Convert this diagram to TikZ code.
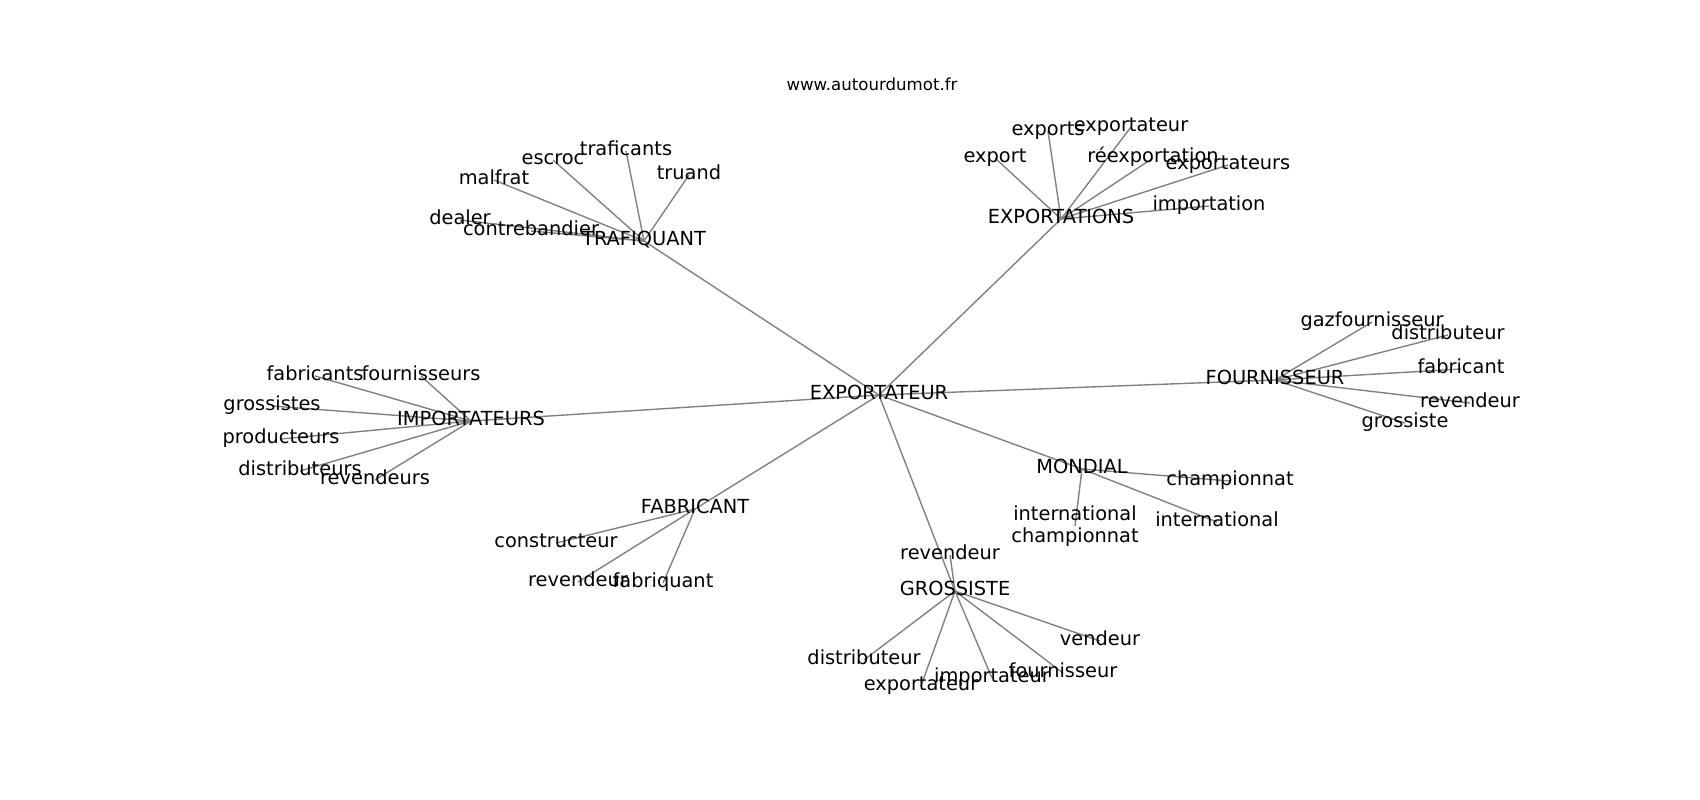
\documentclass[tikz,border=0pt]{standalone}
\usepackage{fontspec}
\setmainfont{DejaVu Sans}
\usetikzlibrary{backgrounds}

\begin{document}
\begin{tikzpicture}[x=0.01in, y=-0.01in,
  lbl/.style={inner sep=0pt, font=\fontsize{14}{15.6}\selectfont, text height=10.6pt, text depth=3.4pt},
  lbl2/.style={inner sep=0pt, font=\fontsize{14}{15.6}\selectfont, align=center},
  edge/.style={line width=1pt, black!50}]

  \useasboundingbox (0,-3) rectangle (1700,797);

  \node[inner sep=0pt, font=\fontsize{12}{14}\selectfont, text height=9.1pt, text depth=2.9pt] at (872,83) (ttl) {www.autourdumot.fr};

  \node[lbl] at (879,392) (c0) {EXPORTATEUR};

  % trafiquant
  \node[lbl] at (644,238) (t0) {TRAFIQUANT};
  \node[lbl] at (460,217) (t1) {dealer};
  \node[lbl] at (531,228) (t2) {contrebandier};
  \node[lbl] at (494,177) (t3) {malfrat};
  \node[lbl] at (553,157) (t4) {escroc};
  \node[lbl] at (626,148) (t5) {traficants};
  \node[lbl] at (689,172) (t6) {truand};

  % exportations
  \node[lbl] at (1061,216) (x0) {EXPORTATIONS};
  \node[lbl] at (995,155) (x1) {export};
  \node[lbl] at (1048,128) (x2) {exports};
  \node[lbl] at (1131,124) (x3) {exportateur};
  \node[lbl] at (1153,155) (x4) {réexportation};
  \node[lbl] at (1228,162) (x5) {exportateurs};
  \node[lbl] at (1209,203) (x6) {importation};

  % fournisseur
  \node[lbl] at (1275,377) (f0) {FOURNISSEUR};
  \node[lbl] at (1372,319) (f1) {gazfournisseur};
  \node[lbl] at (1448,332) (f2) {distributeur};
  \node[lbl] at (1461,366) (f3) {fabricant};
  \node[lbl] at (1470,400) (f4) {revendeur};
  \node[lbl] at (1405,420) (f5) {grossiste};

  % importateurs
  \node[lbl] at (471,418) (i0) {IMPORTATEURS};
  \node[lbl] at (315,373) (i1) {fabricants};
  \node[lbl] at (421,373) (i2) {fournisseurs};
  \node[lbl] at (272,403) (i3) {grossistes};
  \node[lbl] at (281,436) (i4) {producteurs};
  \node[lbl] at (300,468) (i5) {distributeurs};
  \node[lbl] at (375,477) (i6) {revendeurs};

  % fabricant
  \node[lbl] at (695,506) (b0) {FABRICANT};
  \node[lbl] at (556,540) (b1) {constructeur};
  \node[lbl] at (578,579) (b2) {revendeur};
  \node[lbl] at (663,580) (b3) {fabriquant};

  % grossiste
  \node[lbl] at (955,588) (g0) {GROSSISTE};
  \node[lbl] at (950,552) (g1) {revendeur};
  \node[lbl] at (864,657) (g2) {distributeur};
  \node[lbl] at (921,683) (g3) {exportateur};
  \node[lbl] at (992,675) (g4) {importateur};
  \node[lbl] at (1063,670) (g5) {fournisseur};
  \node[lbl] at (1100,638) (g6) {vendeur};

  % mondial
  \node[lbl] at (1082,466) (m0) {MONDIAL};
  \node[lbl] at (1230,478) (m1) {championnat};
  \node[lbl] at (1217,519) (m2) {international};
  \node[lbl2] at (1075,523) (m3) {international\\championnat};

  \begin{scope}[on background layer]
  \draw[edge] (c0.center) -- (t0.center);
  \draw[edge] (c0.center) -- (x0.center);
  \draw[edge] (c0.center) -- (f0.center);
  \draw[edge] (c0.center) -- (i0.center);
  \draw[edge] (c0.center) -- (b0.center);
  \draw[edge] (c0.center) -- (g0.center);
  \draw[edge] (c0.center) -- (m0.center);

  \draw[edge] (t0.center) -- (t1.center);
  \draw[edge] (t0.center) -- (t2.center);
  \draw[edge] (t0.center) -- (t3.center);
  \draw[edge] (t0.center) -- (t4.center);
  \draw[edge] (t0.center) -- (t5.center);
  \draw[edge] (t0.center) -- (t6.center);

  \draw[edge] (x0.center) -- (x1.center);
  \draw[edge] (x0.center) -- (x2.center);
  \draw[edge] (x0.center) -- (x3.center);
  \draw[edge] (x0.center) -- (x4.center);
  \draw[edge] (x0.center) -- (x5.center);
  \draw[edge] (x0.center) -- (x6.center);

  \draw[edge] (f0.center) -- (f1.center);
  \draw[edge] (f0.center) -- (f2.center);
  \draw[edge] (f0.center) -- (f3.center);
  \draw[edge] (f0.center) -- (f4.center);
  \draw[edge] (f0.center) -- (f5.center);

  \draw[edge] (i0.center) -- (i1.center);
  \draw[edge] (i0.center) -- (i2.center);
  \draw[edge] (i0.center) -- (i3.center);
  \draw[edge] (i0.center) -- (i4.center);
  \draw[edge] (i0.center) -- (i5.center);
  \draw[edge] (i0.center) -- (i6.center);

  \draw[edge] (b0.center) -- (b1.center);
  \draw[edge] (b0.center) -- (b2.center);
  \draw[edge] (b0.center) -- (b3.center);

  \draw[edge] (g0.center) -- (g1.center);
  \draw[edge] (g0.center) -- (g2.center);
  \draw[edge] (g0.center) -- (g3.center);
  \draw[edge] (g0.center) -- (g4.center);
  \draw[edge] (g0.center) -- (g5.center);
  \draw[edge] (g0.center) -- (g6.center);

  \draw[edge] (m0.center) -- (m1.center);
  \draw[edge] (m0.center) -- (m2.center);
  \draw[edge] (m0.center) -- (m3.center);
  \end{scope}

\end{tikzpicture}
\end{document}
